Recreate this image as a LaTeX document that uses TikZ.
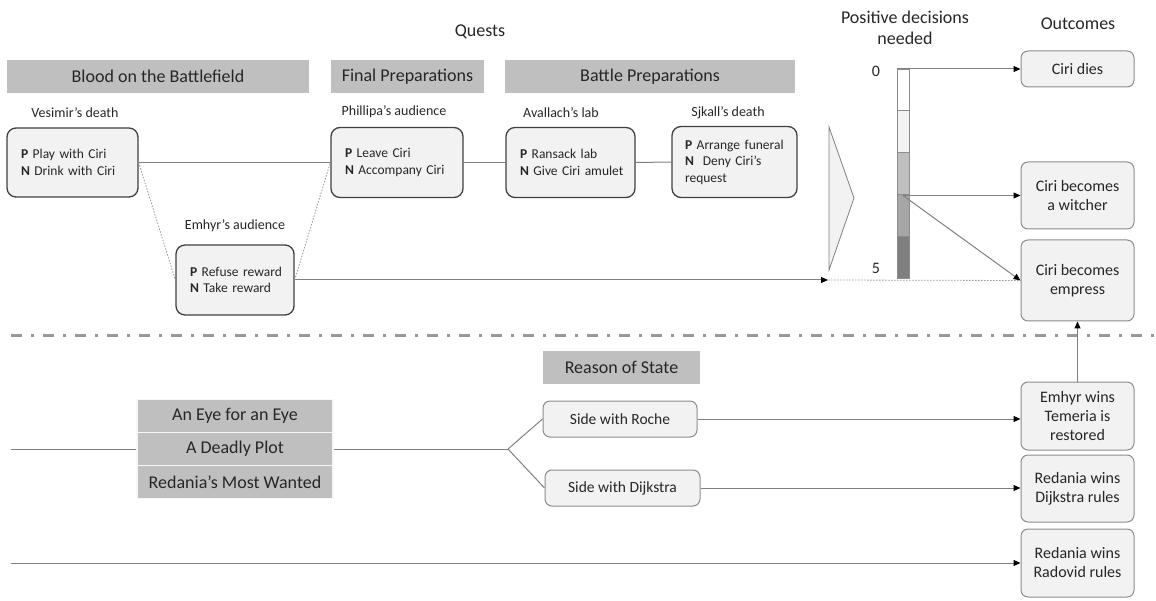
\documentclass[tikz,border=0pt]{standalone}
\usepackage{fontspec}
\setmainfont{Carlito}
\usetikzlibrary{arrows.meta,calc}
\definecolor{hdr}{HTML}{BFBFBF}
\definecolor{boxfill}{HTML}{F2F2F2}
\definecolor{qedge}{HTML}{404040}
\definecolor{oedge}{HTML}{8C8C8C}
\definecolor{ln}{HTML}{808080}
\definecolor{txt}{HTML}{262626}
\definecolor{segd}{HTML}{A6A6A6}
\definecolor{sege}{HTML}{7F7F7F}
\definecolor{sepc}{HTML}{999999}
\begin{document}
\begin{tikzpicture}[x=1pt,y=-1pt,
  hdrbar/.style={fill=hdr, text=txt, font=\fontsize{18pt}{21pt}\selectfont, inner sep=0pt, minimum height=33pt},
  title/.style={text=txt, font=\fontsize{18pt}{21pt}\selectfont, align=center, inner sep=0pt},
  qlabel/.style={text=txt, font=\fontsize{14pt}{17pt}\selectfont, inner sep=0pt},
  qbox/.style={draw=qedge, fill=boxfill, line width=1.3pt, rounded corners=9pt, inner xsep=14pt, inner ysep=0pt, align=left, text=txt, font=\fontsize{13.5pt}{16.5pt}\selectfont},
  obox/.style={draw=oedge, fill=boxfill, line width=1pt, rounded corners=7pt, align=center, text=txt, font=\fontsize{16pt}{19pt}\selectfont, minimum width=113pt, inner sep=0pt},
  sbox/.style={draw=oedge, fill=boxfill, line width=1pt, rounded corners=7pt, align=center, text=txt, font=\fontsize{15.5pt}{18pt}\selectfont, inner sep=0pt, minimum height=36pt},
  stackbar/.style={fill=hdr, draw=white!88!hdr, line width=1.5pt, text=txt, font=\fontsize{18pt}{21pt}\selectfont, inner sep=0pt, minimum width=196pt, minimum height=33pt},
  conn/.style={draw=ln, line width=1pt},
  dotconn/.style={draw=ln!80, line width=0.8pt, dash pattern=on 1.5pt off 1.5pt},
  arr/.style={conn, -{Triangle[length=7pt,width=6pt,color=black]}},
  numlbl/.style={text=txt, font=\fontsize{16pt}{19pt}\selectfont, inner sep=0pt}
]
\useasboundingbox (0,0) rectangle (1156,601);

% ---------- top: quests ----------
\node[title] (quests) at (480,32) {Quests};
\node[hdrbar, minimum width=302pt] (hb1) at (158,76.5) {Blood on the Battlefield};
\node[hdrbar, minimum width=153pt] (hb2) at (407.5,76.5) {Final Preparations};
\node[hdrbar, minimum width=290pt] (hb3) at (650,76.5) {Battle Preparations};

\node[qlabel] (lves) at (75,113) {Vesimir’s death};
\node[qlabel] (lphi) at (394,112) {Phillipa’s audience};
\node[qlabel] (lava) at (561,113) {Avallach’s lab};
\node[qlabel] (lsjk) at (728,113) {Sjkall’s death};
\node[qlabel] (lemh) at (235,226) {Emhyr’s audience};

\node[qbox, text width=103pt, minimum height=69pt] (ves) at (72.5,162.5) {\mbox{\textbf{P} Play with Ciri}\\\mbox{\textbf{N} Drink with Ciri}};
\node[qbox, text width=104pt, minimum height=70pt] (phi) at (397,162.5) {\mbox{\textbf{P} Leave Ciri}\\\mbox{\textbf{N} Accompany Ciri}};
\node[qbox, text width=101pt, minimum height=70pt] (ava) at (570.5,162.5) {\mbox{\textbf{P} Ransack lab}\\\mbox{\textbf{N} Give Ciri amulet}};
\node[qbox, text width=99pt, inner xsep=13pt, minimum height=71pt] (sjk) at (734.5,162) {\mbox{\textbf{P} Arrange funeral}\\\mbox{\textbf{N}\ \ Deny Ciri’s}\\request};
\node[qbox, text width=90pt, minimum height=70pt] (emh) at (235,280) {\mbox{\textbf{P} Refuse reward}\\\mbox{\textbf{N} Take reward}};

\draw[conn] (ves.east) -- (phi.west);
\draw[conn] (phi.east) -- (ava.west);
\draw[conn] (ava.east) -- (sjk.west);
\draw[dotconn] (ves.east) -- (emh.west);
\draw[dotconn] (emh.east) -- (phi.west);

% funnel triangle
\draw[draw=ln, fill=boxfill, line width=0.8pt] (829,127) -- (854,198) -- (829,270) -- cycle;

% positive decisions scale
\node[title] (lpos) at (905,28) {Positive decisions\\needed};
\foreach \i/\c in {0/white,1/boxfill,2/hdr,3/segd,4/sege}
  \draw[draw=oedge, fill=\c, line width=0.8pt] ({897},{69+41.8*\i}) rectangle ({909},{69+41.8*(\i+1)});
\node[numlbl] (n0) at (876,71) {0};
\node[numlbl] (n5) at (876,268) {5};
\coordinate (s0) at (897,69);
\coordinate (s3) at (903,195.5);

% outcomes
\node[title] (lout) at (1078,24) {Outcomes};
\node[obox, minimum height=36pt] (dies) at (1077.5,69) {Ciri dies};
\node[obox, minimum height=67pt] (witch) at (1077.5,195.5) {Ciri becomes\\a witcher};
\node[obox, minimum height=81pt] (emp) at (1077.5,280.5) {Ciri becomes\\empress};

\draw[arr] (s0) -- (dies.west);
\draw[arr] (s3) -- (witch.west);
\draw[arr] (s3) -- (emp.west);
\coordinate (dotend) at (828,280);
\draw[arr] (emh.east) -- (dotend);
\draw[dotconn] (dotend) -- (emp.west);

% separator
\coordinate (sepL) at (11,336);
\coordinate (sepR) at (1156,336);
\draw[draw=sepc, line width=3pt, dash pattern=on 11pt off 9pt on 3pt off 9pt] (sepL) -- (sepR);

% ---------- bottom: reason of state ----------
\node[hdrbar, minimum width=157pt] (rstate) at (621.5,367.5) {Reason of State};
\node[stackbar] (eye) at (235,416) {An Eye for an Eye};
\node[stackbar] (plot) at (235,449) {A Deadly Plot};
\node[stackbar] (want) at (235,482) {Redania’s Most Wanted};

\node[sbox, minimum width=154pt] (roche) at (620,419) {Side with Roche};
\node[sbox, minimum width=155pt] (dijk) at (622.5,488) {Side with Dijkstra};

\node[obox, minimum height=68pt] (ewins) at (1077.5,416) {Emhyr wins\\Temeria is\\restored};
\node[obox, minimum height=67pt] (rdijk) at (1077.5,488.5) {Redania wins\\Dijkstra rules};
\node[obox, minimum height=68pt] (rrad) at (1077.5,563) {Redania wins\\Radovid rules};

\coordinate (lstart) at (11,449);
\coordinate (branch) at (508,449);
\coordinate (bstart) at (11,563);
\draw[conn] (lstart) -- (plot.west);
\draw[conn] (plot.east) -- (branch);
\draw[conn] (branch) -- (roche.west);
\draw[conn] (branch) -- (dijk.west);
\draw[arr] (roche.east) -- (roche.east -| ewins.west);
\draw[arr] (dijk.east) -- (dijk.east -| rdijk.west);
\draw[arr] (bstart) -- (rrad.west);
\draw[arr] (ewins.north) -- (emp.south);
\end{tikzpicture}
\end{document}
